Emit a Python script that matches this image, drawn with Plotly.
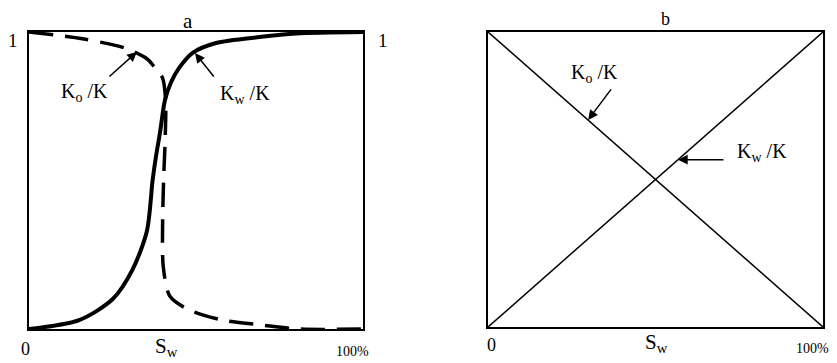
import plotly.graph_objects as go

# panel a: S-shaped relative permeability curves (Sw in %, K ratio 0..1)
sw_kw_a = [0, 15, 25, 31, 35.3, 37, 38, 39.2, 40.7, 42.5, 45, 49, 56, 69, 80, 100]
kw_a = [0, 0.03, 0.1, 0.2, 0.33, 0.5, 0.58, 0.66, 0.77, 0.83, 0.88, 0.93, 0.963, 0.983, 0.995, 1.0]

sw_ko_a = [0, 16, 28.7, 35.3, 37.7, 40, 40.9, 40.8, 40.3, 40, 40.2, 42.2, 48, 58, 70, 81, 100]
ko_a = [1, 0.977, 0.946, 0.91, 0.88, 0.845, 0.77, 0.65, 0.5, 0.35, 0.21, 0.11, 0.064, 0.03, 0.013, 0, 0]

# panel b: straight-line case
sw_b = [0, 100]
kw_b = [0, 1]
ko_b = [1, 0]

SERIF = "Liberation Serif, Times New Roman, serif"

# the page body adds an 8px margin, so the figure is drawn 8px smaller
# and every page-pixel position is shifted by that amount
OFF = 8
W, H = 837 - OFF, 363 - OFF


def px_x(p):
    return (p - OFF) / W


def px_y(p):
    return 1 - (p - OFF) / H


fig = go.Figure()

fig.add_trace(go.Scatter(x=sw_kw_a, y=kw_a, mode="lines", xaxis="x", yaxis="y",
                         line=dict(color="black", width=4, shape="spline", smoothing=0.8),
                         cliponaxis=False))
fig.add_trace(go.Scatter(x=sw_ko_a, y=ko_a, mode="lines", xaxis="x", yaxis="y",
                         line=dict(color="black", width=3.5, dash="24px,12px",
                                   shape="spline", smoothing=0.8),
                         cliponaxis=False))

fig.add_trace(go.Scatter(x=sw_b, y=kw_b, mode="lines", xaxis="x2", yaxis="y2",
                         line=dict(color="black", width=1.5), cliponaxis=False))
fig.add_trace(go.Scatter(x=sw_b, y=ko_b, mode="lines", xaxis="x2", yaxis="y2",
                         line=dict(color="black", width=1.5), cliponaxis=False))

axis_style = dict(range=[0, 100], showline=True, mirror=True, linecolor="black",
                  linewidth=2, showgrid=False, zeroline=False, showticklabels=False,
                  ticks="")
yaxis_style = dict(axis_style, range=[0, 1])

fig.update_layout(
    width=W, height=H,
    margin=dict(l=0, r=0, t=0, b=0),
    paper_bgcolor="white", plot_bgcolor="white",
    showlegend=False,
    font=dict(family=SERIF, size=20, color="black"),
    xaxis=dict(axis_style, domain=[px_x(29), px_x(363)], anchor="y"),
    yaxis=dict(yaxis_style, domain=[px_y(329), px_y(32)], anchor="x"),
    xaxis2=dict(axis_style, domain=[px_x(488), px_x(823)], anchor="y2"),
    yaxis2=dict(yaxis_style, domain=[px_y(327), px_y(32)], anchor="x2"),
)

arrow = dict(showarrow=True, arrowhead=2, arrowsize=1.3, arrowwidth=1.5,
             arrowcolor="black", text="")

# arrows pointing to the curves
fig.add_annotation(arrow, x=32.3, y=0.933, xref="x", yref="y", ax=-29, ay=26)
fig.add_annotation(arrow, x=49.7, y=0.929, xref="x", yref="y", ax=20, ay=25)
fig.add_annotation(arrow, x=29.9, y=0.702, xref="x2", yref="y2", ax=24, ay=-32)
fig.add_annotation(arrow, x=56.7, y=0.567, xref="x2", yref="y2", ax=47, ay=0)

labels = [
    ("K<sub>o</sub> /K", 16.5, 0.795, "x", "y"),
    ("K<sub>w</sub> /K", 64.7, 0.788, "x", "y"),
    ("K<sub>o</sub> /K", 31.9, 0.861, "x2", "y2"),
    ("K<sub>w</sub> /K", 81.8, 0.59, "x2", "y2"),
]
for txt, x, y, xr, yr in labels:
    fig.add_annotation(text=txt, x=x, y=y, xref=xr, yref=yr, showarrow=False,
                       xanchor="center", yanchor="middle", font=dict(size=20))

# panel titles and axis texts, placed in page pixels
page_text = [
    ("a", 188, 21, 21),
    ("b", 665, 19, 18),
    ("1", 13, 41, 19),
    ("1", 383, 41, 19),
    ("0", 25, 349, 18),
    ("S<sub>w</sub>", 166, 347, 21),
    ("100%", 352, 351, 14),
    ("0", 491, 345, 18),
    ("S<sub>w</sub>", 656, 343, 21),
    ("100%", 812, 348, 14),
]
for txt, px, py, size in page_text:
    fig.add_annotation(text=txt, x=px_x(px), y=px_y(py), xref="paper", yref="paper",
                       showarrow=False, xanchor="center", yanchor="middle",
                       font=dict(size=size))

fig.write_html("out.html")
